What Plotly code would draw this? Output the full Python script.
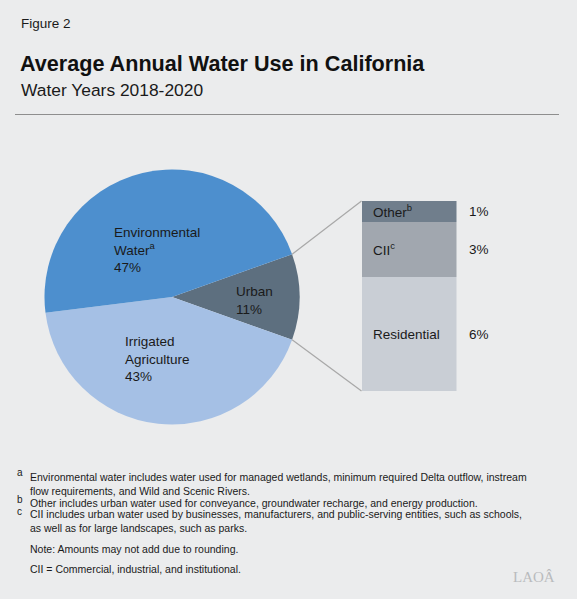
import math
import plotly.graph_objects as go

W, H = 577, 599
FONT = "Liberation Sans, Arial, Helvetica, sans-serif"
BG = "#ebeced"
TXT = "#1a1a1a"

# ---------------- data ----------------
pie_labels = ["Urban", "Irrigated Agriculture", "Environmental Water"]
pie_values = [11, 43, 47]
pie_text = ["Urban<br>11%", "Irrigated<br>Agriculture<br>43%",
            "Environmental<br>Water<sup>a</sup><br>47%"]
pie_colors = ["#5d6f7f", "#a5c0e5", "#4d8fce"]

bar_labels = ["Residential", "CII", "Other"]
bar_values = [6.0, 2.9, 1.1]
bar_text = ["Residential", "CII<sup>c</sup>", "Other<sup>b</sup>"]
bar_pct = ["6%", "3%", "1%"]
bar_colors = ["#c9ced5", "#a1a7af", "#707e8c"]

footnotes = [
    ("a", "Environmental water includes water used for managed wetlands, minimum required Delta outflow, instream"),
    ("", "flow requirements, and Wild and Scenic Rivers."),
    ("b", "Other includes urban water used for conveyance, groundwater recharge, and energy production."),
    ("c", "CII includes urban water used by businesses, manufacturers, and public-serving entities, such as schools,"),
    ("", "as well as for large landscapes, such as parks."),
    ("", "Note: Amounts may not add due to rounding."),
    ("", "CII = Commercial, industrial, and institutional."),
]

# ---------------- layout geometry (pixels) ----------------
cx, cy, r = 172, 297, 127.5
bar_px_x = (361.5, 456.5)
bar_px_y = (201, 391)


def px(x):
    return x / W


def py(y):
    return 1 - y / H


fig = go.Figure()

urban_half = 180 * pie_values[0] / sum(pie_values)
fig.add_trace(go.Pie(
    labels=pie_labels, values=pie_values, sort=False, direction="clockwise",
    rotation=90 - urban_half, textinfo="none", hoverinfo="label+percent",
    marker=dict(colors=pie_colors, line=dict(width=0)),
    domain=dict(x=[px(cx - r), px(cx + r)], y=[py(cy + r), py(cy - r)]),
    showlegend=False,
))

for lab, val, col in zip(bar_labels, bar_values, bar_colors):
    fig.add_trace(go.Bar(x=[0], y=[val], name=lab, marker=dict(color=col, line=dict(width=0)),
                         width=1, showlegend=False))

total_bar = sum(bar_values)
fig.update_layout(
    width=W, height=H, margin=dict(l=0, r=0, t=0, b=0),
    paper_bgcolor=BG, plot_bgcolor=BG, barmode="stack", bargap=0,
    font=dict(family=FONT, color=TXT),
    xaxis=dict(domain=[px(bar_px_x[0]), px(bar_px_x[1])], range=[-0.5, 0.5], visible=False, fixedrange=True),
    yaxis=dict(domain=[py(bar_px_y[1]), py(bar_px_y[0])], range=[0, total_bar], visible=False, fixedrange=True),
)

ann = []
# bar labels
cum = 0
for txt, val, pct in zip(bar_text, bar_values, bar_pct):
    mid = cum + val / 2
    cum += val
    ann.append(dict(x=-0.5, y=mid, xref="x", yref="y", text=txt, showarrow=False,
                    xanchor="left", yanchor="middle", xshift=9, font=dict(size=13.5, color=TXT)))
    ann.append(dict(x=0.5, y=mid, xref="x", yref="y", text=pct, showarrow=False,
                    xanchor="left", yanchor="middle", xshift=10, font=dict(size=13.5, color=TXT)))

# pie labels (left-aligned blocks)
pie_label_pos = [(234, 300), (122.5, 359), (112, 250)]
for txt, (lx, ly) in zip(pie_text, pie_label_pos):
    ann.append(dict(x=px(lx), y=py(ly), xref="paper", yref="paper", text=txt, showarrow=False,
                    xanchor="left", yanchor="middle", align="left", font=dict(size=13.5, color=TXT)))

# titles
ann.append(dict(x=px(18.5), y=py(23.5), xref="paper", yref="paper", text="Figure 2", showarrow=False,
                xanchor="left", yanchor="middle", font=dict(size=13.5, color=TXT)))
ann.append(dict(x=px(18), y=py(63.5), xref="paper", yref="paper", text="<b>Average Annual Water Use in California</b>",
                showarrow=False, xanchor="left", yanchor="middle", font=dict(size=21.6, color="#111111")))
ann.append(dict(x=px(18.5), y=py(90), xref="paper", yref="paper", text="Water Years 2018-2020", showarrow=False,
                xanchor="left", yanchor="middle", font=dict(size=17.4, color=TXT)))

# footnotes
fn_y = [476.7, 491, 502.7, 514, 528.3, 549.3, 569.3]
sup_y = {"a": 472.5, "b": 499.5, "c": 511.5}
for (letter, line), y in zip(footnotes, fn_y):
    ann.append(dict(x=px(28), y=py(y), xref="paper", yref="paper", text=line, showarrow=False,
                    xanchor="left", yanchor="middle", font=dict(size=10.5, color=TXT)))
    if letter:
        ann.append(dict(x=px(14.5), y=py(sup_y[letter]), xref="paper", yref="paper", text=letter,
                        showarrow=False, xanchor="left", yanchor="middle", font=dict(size=10, color=TXT)))

# logo
ann.append(dict(x=px(557), y=py(577), xref="paper", yref="paper", text="LAOÂ", showarrow=False,
                xanchor="right", yanchor="middle",
                font=dict(size=15, color="#b9bbbd", family="Liberation Serif, Times New Roman, serif")))

fig.update_layout(annotations=ann)

# shapes: title rule and connector lines from the Urban slice edges to the bar
a = math.radians(urban_half)
p_top = (cx + r * math.cos(a), cy - r * math.sin(a))
p_bot = (cx + r * math.cos(a), cy + r * math.sin(a))
shapes = [
    dict(type="line", xref="paper", yref="paper", x0=px(15), x1=px(559), y0=py(114.5), y1=py(114.5),
         line=dict(color="#8e8e8e", width=1)),
    dict(type="line", xref="paper", yref="paper", x0=px(p_top[0]), y0=py(p_top[1]),
         x1=px(bar_px_x[0]), y1=py(bar_px_y[0]), line=dict(color="#a8a8a8", width=1.2)),
    dict(type="line", xref="paper", yref="paper", x0=px(p_bot[0]), y0=py(p_bot[1]),
         x1=px(bar_px_x[0]), y1=py(bar_px_y[1]), line=dict(color="#a8a8a8", width=1.2)),
]
fig.update_layout(shapes=shapes)

fig.write_html("out.html", config={"displayModeBar": False},
               post_script="document.body.style.margin='0';document.body.style.overflow='hidden';"
                           "document.body.style.background='" + BG + "';")
